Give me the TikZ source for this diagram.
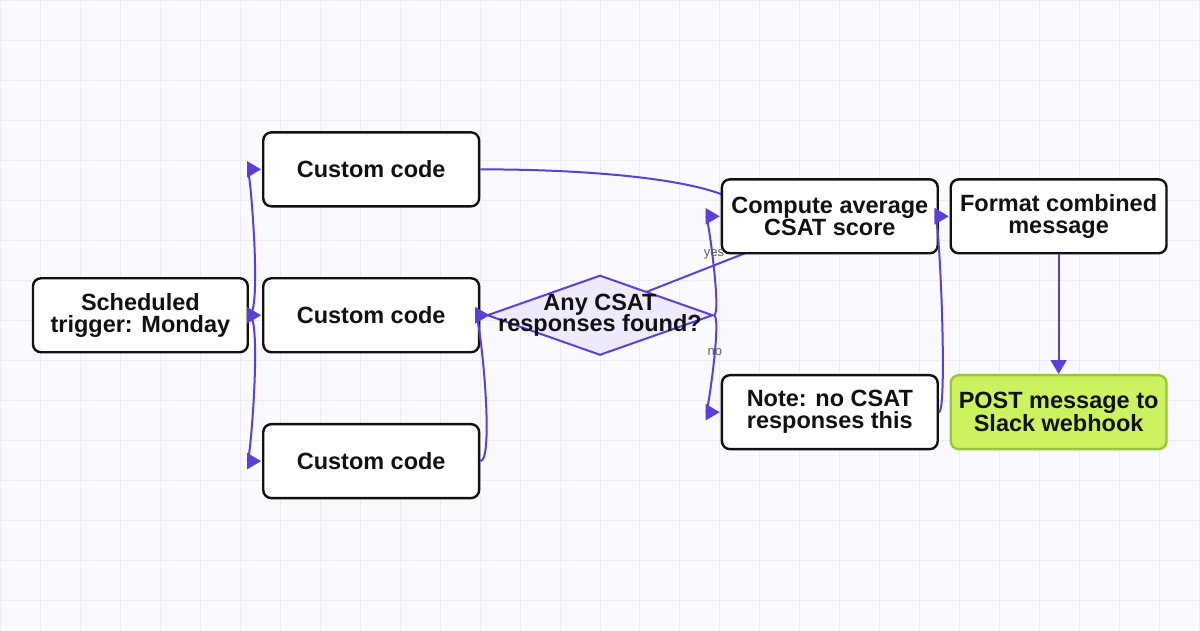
\documentclass[tikz,border=0pt]{standalone}
\usepackage{fontspec}
\setmainfont{Liberation Sans}
\usetikzlibrary{shapes.geometric,arrows.meta}
\definecolor{bg}{HTML}{FAFAFE}
\definecolor{gridc}{HTML}{EDEBF7}
\definecolor{edge}{HTML}{5B3FD9}
\definecolor{dfill}{HTML}{EEEAFB}
\definecolor{gfill}{HTML}{CCF260}
\definecolor{gline}{HTML}{9AC43A}
\definecolor{ink}{HTML}{111111}
\begin{document}
\begin{tikzpicture}[x=1pt,y=-1pt,
  txt/.style={align=center,font=\fontsize{23.5}{22}\selectfont\bfseries,inner sep=0pt,text=ink},
  box/.style={txt,draw=ink,line width=2.4pt,rounded corners=8pt,fill=white,minimum width=216pt,minimum height=74pt},
  dia/.style={diamond,draw=edge,line width=2pt,fill=dfill,minimum width=226pt,minimum height=80pt,inner sep=0pt},
  e/.style={draw=edge,line width=2pt},
  a/.style={e,-{Triangle[length=14pt,width=16pt]}},
  lab/.style={font=\fontsize{13}{13}\selectfont,text=gray!75!black}]
\fill[bg] (0,0) rectangle (1200,630);
\foreach \x in {0,40,...,1200} \draw[gridc,line width=1pt] (\x,0) -- (\x,630);
\foreach \y in {0,40,...,600} \draw[gridc,line width=1pt] (0,\y) -- (1200,\y);
\useasboundingbox (0,0) rectangle (1200,630);
\node[box,minimum width=215pt] (trig) at (140,315) {Scheduled\\trigger: Monday};
\node[box] (cc1) at (371,169) {Custom code};
\node[box] (cc2) at (371,315) {Custom code};
\node[box] (cc3) at (371,461) {Custom code};
\draw[a] (trig.east) .. controls (262,315) and (250,169) .. ([xshift=-1pt]cc1.west);
\draw[a] (trig.east) -- ([xshift=-1pt]cc2.west);
\draw[a] (trig.east) .. controls (262,315) and (250,461) .. ([xshift=-1pt]cc3.west);
\coordinate (dw) at (489,315);
\draw[e] (cc1.east) .. controls (600,169) and (700,180) .. (735,200) .. controls (760,220) and (760,245) .. (745,253) -- (620,302) -- (dw);
\draw[a] (cc2.east) -- (dw);
\draw[a] (cc3.east) .. controls (495,461) and (480,315) .. (dw);
\node[dia] (dec) at (600,315) {};
\node[txt] (dect) at (600,315) {Any CSAT\\responses found?};
\node[box] (comp) at (830,216) {Compute average\\CSAT score};
\node[box] (fmt) at (1059,216) {Format combined\\message};
\node[box] (note) at (830,412) {Note: no CSAT\\responses this};
\node[box,draw=gline,fill=gfill] (post) at (1059,412) {POST message to\\Slack webhook};
\draw[a] (dec.east) .. controls (722,315) and (708,216) .. ([xshift=-1pt]comp.west);
\draw[a] (dec.east) .. controls (722,315) and (708,412) .. ([xshift=-1pt]note.west);
\draw[a] (comp.east) -- ([xshift=-1pt]fmt.west);
\draw[a] (note.east) .. controls (948,412) and (940,216) .. ([xshift=-1pt]fmt.west);
\draw[a] (fmt.south) -- (post.north);
\node[lab] (yes) at (714,254) {yes};
\node[lab] (no) at (715,352) {no};
\end{tikzpicture}
\end{document}
